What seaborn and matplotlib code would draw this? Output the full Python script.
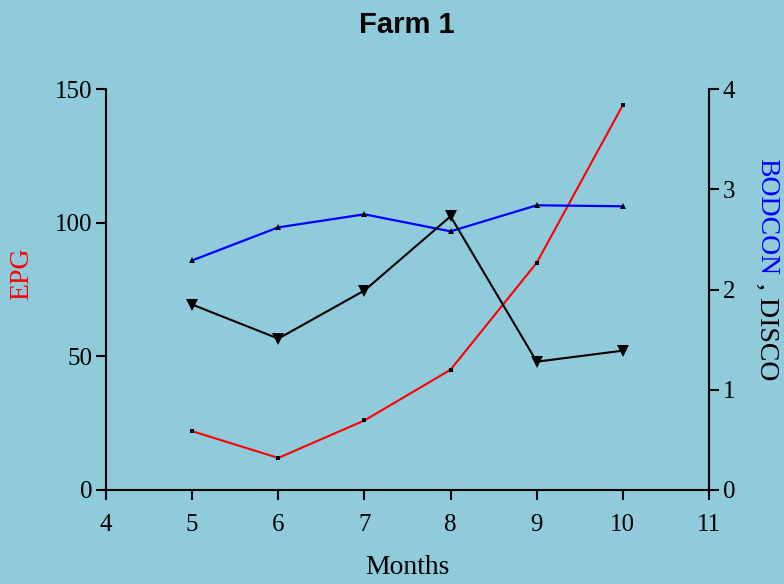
import matplotlib
matplotlib.use("Agg")
import matplotlib.pyplot as plt
import matplotlib.transforms as mtransforms
import seaborn as sns
import pandas as pd

# Monthly observations for Farm 1
months = [5, 6, 7, 8, 9, 10]
epg = [22, 12, 26, 45, 85, 144]
bodcon = [2.29, 2.62, 2.75, 2.58, 2.84, 2.83]
disco = [1.85, 1.51, 1.99, 2.73, 1.28, 1.39]

x_ticks = [4, 5, 6, 7, 8, 9, 10, 11]
left_ticks = [0, 50, 100, 150]
right_ticks = [0, 1, 2, 3, 4]

df = pd.DataFrame({"Months": months, "EPG": epg, "BODCON": bodcon, "DISCO": disco})

sns.set_theme(style="ticks")
bg = "#8fcbdb"
plt.rcParams["font.family"] = ["Liberation Serif", "DejaVu Serif"]
plt.rcParams["text.color"] = "black"

fig = plt.figure(figsize=(7.84, 5.84), dpi=100, facecolor=bg)
ax = fig.add_axes([106 / 784, 1 - 490 / 584, (709 - 106) / 784, (490 - 89) / 584])
ax.set_facecolor("none")
ax2 = ax.twinx()
ax2.set_facecolor("none")

sns.lineplot(data=df, x="Months", y="EPG", ax=ax, color="red", lw=1.5,
             marker="s", markersize=3, markerfacecolor="black",
             markeredgecolor="black", markeredgewidth=0)
sns.lineplot(data=df, x="Months", y="BODCON", ax=ax2, color="blue", lw=1.6,
             marker="^", markersize=5, markerfacecolor="black",
             markeredgecolor="black", markeredgewidth=0)
sns.lineplot(data=df, x="Months", y="DISCO", ax=ax2, color="black", lw=1.5,
             marker="v", markersize=9, markerfacecolor="black",
             markeredgecolor="black", markeredgewidth=0)

ax.set_xlim(4, 11)
ax.set_ylim(0, 150)
ax2.set_ylim(0, 4)
ax.set_xticks(x_ticks)
ax.set_yticks(left_ticks)
ax2.set_yticks(right_ticks)

for a in (ax, ax2):
    a.spines["top"].set_visible(False)
    for s in a.spines.values():
        s.set_linewidth(1.5)
        s.set_color("black")
    a.tick_params(axis="both", direction="out", length=7, width=1.5,
                  labelsize=18, colors="black", pad=3)
ax.tick_params(axis="x", pad=10)
ax.spines["right"].set_visible(False)
ax2.spines["left"].set_visible(False)
ax2.spines["bottom"].set_visible(False)

ax.set_xlabel("")
ax.set_ylabel("")
ax2.set_ylabel("")

fig.text(407 / 784, 1 - 567 / 584, "Months", color="black", fontsize=20,
         ha="center", va="center")
fig.text(22 / 784, 1 - 274 / 584, "EPG", color="red", fontsize=20,
         rotation=90, ha="center", va="center")

fig.text(407 / 784, 1 - 25 / 584, "Farm 1", ha="center", va="center", color="black",
         fontsize=21, fontweight="bold", family=["Liberation Sans", "DejaVu Sans"])

# Two-colour right axis label, reading downwards
lx, ly = 767 / 784, 1 - 158 / 584
t1 = fig.text(lx, ly, "BODCON", color="blue", fontsize=20, rotation=270,
              rotation_mode="anchor", ha="left", va="center")
fig.canvas.draw()
bb = t1.get_window_extent(renderer=fig.canvas.get_renderer())
shift = (bb.y1 - bb.y0) / fig.dpi * 72 + 6
trans = mtransforms.offset_copy(fig.transFigure, fig=fig, x=0, y=-shift, units="points")
fig.text(lx, ly, ", DISCO", color="black", fontsize=20, rotation=270,
         rotation_mode="anchor", ha="left", va="center", transform=trans)

fig.savefig("out.png", dpi=100, facecolor=bg)
